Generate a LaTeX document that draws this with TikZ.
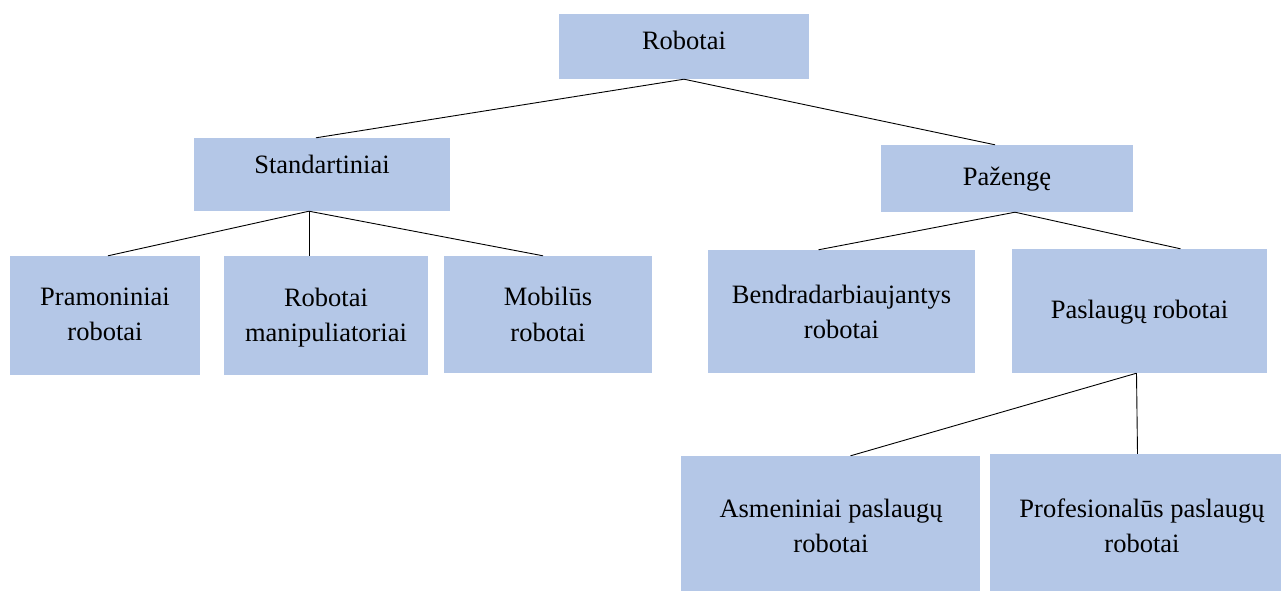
\documentclass[tikz,border=0pt]{standalone}
\usepackage{fontspec}
\setmainfont{Liberation Serif}
\usetikzlibrary{calc}
\definecolor{boxblue}{HTML}{B4C7E7}
\begin{document}
\begin{tikzpicture}[x=1pt,y=-1pt,
  box/.style={rectangle,fill=boxblue,inner sep=0pt,anchor=center},
  txt/.style={inner sep=0pt,align=center,font=\fontsize{26.5}{35.5}\selectfont},
  link/.style={draw=black,line width=0.9pt}]
\useasboundingbox (0,0) rectangle (1283,592);

% boxes
\node[box,minimum width=250,minimum height=65]  (rob)   at (684,46.5)    {};
\node[box,minimum width=256,minimum height=73]  (std)   at (322,174.5)   {};
\node[box,minimum width=252,minimum height=67]  (paz)   at (1007,178.5)  {};
\node[box,minimum width=190,minimum height=119] (pram)  at (105,315.5)   {};
\node[box,minimum width=204,minimum height=119] (manip) at (326,315.5)   {};
\node[box,minimum width=208,minimum height=117] (mobil) at (548,314.5)   {};
\node[box,minimum width=267,minimum height=123] (bendr) at (841.5,311.5) {};
\node[box,minimum width=255,minimum height=124] (pasl)  at (1139.5,311)  {};
\node[box,minimum width=299,minimum height=135] (asm)   at (830.5,523.5) {};
\node[box,minimum width=291,minimum height=137] (prof)  at (1135.5,522.5){};

% labels
\node[txt,anchor=base] (robT)   at (684,49)    {Robotai};
\node[txt,anchor=base] (stdT)   at (322,173)   {Standartiniai};
\node[txt,anchor=base] (pazT)   at (1007,185)  {Pažengę};
\node[txt] (pramT)  at (105,314.5)  {Pramoniniai\\robotai};
\node[txt] (manipT) at (326,317.5)  {Robotai\\manipuliatoriai};
\node[txt] (mobilT) at (548,314.5)  {Mobilūs\\robotai};
\node[txt] (bendrT) at (841.5,312)  {Bendradarbiaujantys\\robotai};
\node[txt,anchor=base] (paslT) at (1139.5,318) {Paslaugų robotai};
\node[txt] (asmT)   at (831,526)    {Asmeniniai paslaugų\\robotai};
\node[txt] (profT)  at (1142,526)   {Profesionalūs paslaugų\\robotai};

% connectors
\draw[link] (rob.south) -- ($(std.north)+(-6,0)$);
\draw[link] (rob.south) -- ($(paz.north)+(-12,0)$);
\draw[link] ($(std.south)+(-13,0)$) -- ($(pram.north)+(3,0)$);
\draw[link] ($(std.south)+(-13,0)$) -- ($(manip.north)+(-17,0)$);
\draw[link] ($(std.south)+(-13,0)$) -- ($(mobil.north)+(-5,0)$);
\draw[link] ($(paz.south)+(8,0)$) -- ($(bendr.north)+(-23,0)$);
\draw[link] ($(paz.south)+(8,0)$) -- ($(pasl.north)+(41,0)$);
\draw[link] ($(pasl.south)+(-3,0)$) -- ($(asm.north)+(20,0)$);
\draw[link] ($(pasl.south)+(-3,0)$) -- ($(prof.north)+(2,0)$);
\end{tikzpicture}
\end{document}
